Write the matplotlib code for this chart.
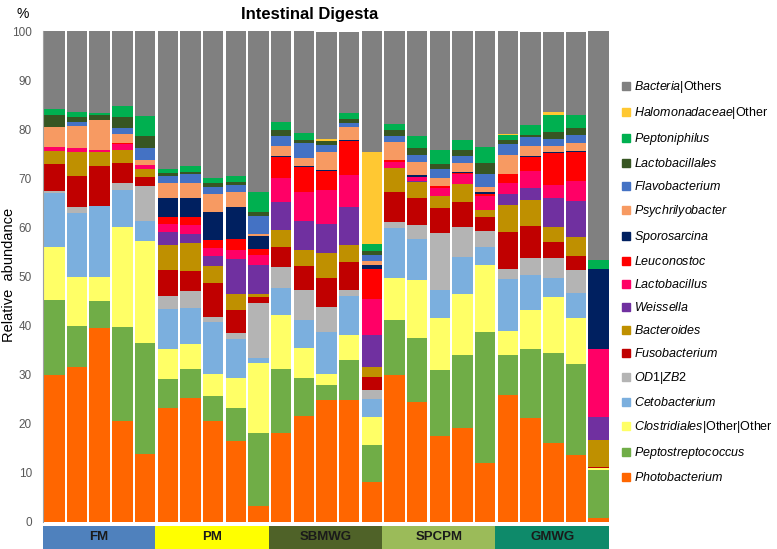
import matplotlib
matplotlib.use("Agg")
import matplotlib.pyplot as plt
from matplotlib.patches import Patch, Rectangle

# Stacked relative abundance of intestinal digesta, 5 diets x 5 samples.

plt.rcParams["font.family"] = ["Liberation Sans", "DejaVu Sans"]
plt.rcParams["mathtext.fontset"] = "custom"
plt.rcParams["mathtext.it"] = "Liberation Sans:italic"
plt.rcParams["mathtext.rm"] = "Liberation Sans"

groups = ["FM", "PM", "SBMWG", "SPCPM", "GMWG"]
group_colors = ["#4F81BD", "#FFFF00", "#4F6228", "#9BBB59", "#0E8A6A"]
samples_per_group = 5

# values per taxon, bottom of the stack first (25 samples)
photobacterium = [29.8, 31.5, 39.4, 20.5, 13.8, 23.2, 25.3, 20.5, 16.5, 3.2,
                  18.0, 21.5, 24.9, 24.9, 8.0, 30.0, 24.3, 17.5, 19.0, 11.9,
                  25.9, 21.1, 16.0, 13.6, 0.8]
peptostreptococcus = [15.4, 8.4, 5.6, 19.1, 22.7, 5.9, 5.8, 5.1, 6.7, 14.8,
                      13.1, 7.8, 3.0, 8.0, 7.7, 11.2, 13.2, 13.5, 15.0, 26.8,
                      8.1, 14.1, 18.3, 18.5, 9.7]
clostridiales = [10.8, 10.0, 4.8, 20.5, 20.7, 6.1, 5.1, 4.6, 6.0, 14.3,
                 11.0, 6.2, 2.3, 5.1, 5.7, 8.5, 11.8, 10.6, 12.5, 13.6,
                 4.9, 7.9, 11.4, 9.5, 0.4]
cetobacterium = [10.9, 13.1, 14.5, 7.5, 4.1, 8.1, 7.3, 10.6, 8.0, 1.0,
                 5.6, 5.7, 8.5, 7.9, 3.6, 10.1, 8.3, 5.6, 7.5, 3.7,
                 10.5, 7.2, 3.9, 5.1, 0.0]
od1_zb2 = [0.4, 1.2, 0.0, 1.5, 7.2, 2.7, 3.6, 1.0, 1.3, 11.2,
           4.2, 6.0, 5.0, 1.3, 1.8, 1.3, 2.9, 11.6, 6.1, 3.3,
           2.2, 3.4, 4.2, 4.5, 0.0]
fusobacterium = [5.7, 6.3, 8.1, 4.1, 1.8, 5.2, 3.9, 6.8, 4.6, 1.2,
                 4.0, 4.9, 6.0, 5.7, 2.6, 6.0, 5.4, 5.2, 5.0, 2.9,
                 7.5, 6.6, 3.3, 2.9, 0.3]
bacteroides = [2.5, 4.8, 2.9, 2.5, 1.6, 5.2, 5.7, 3.6, 3.3, 0.8,
               3.6, 3.3, 5.1, 3.5, 2.1, 5.0, 3.3, 2.4, 3.7, 1.3,
               5.4, 5.3, 3.0, 3.9, 5.4]
weissella = [0.0, 0.0, 0.0, 0.0, 0.0, 2.7, 1.9, 1.9, 7.1, 5.8,
             5.7, 5.9, 5.8, 7.8, 6.5, 0.0, 0.3, 0.0, 0.0, 0.0,
             2.3, 2.5, 5.8, 7.4, 4.8]
lactobacillus = [0.9, 0.9, 0.4, 1.3, 0.8, 1.6, 1.9, 1.7, 1.9, 2.0,
                 4.8, 5.8, 7.1, 6.5, 7.3, 1.3, 0.8, 1.7, 2.1, 2.9,
                 2.3, 3.4, 2.7, 4.0, 13.7]
leuconostoc = [0.0, 0.0, 0.0, 0.2, 0.0, 1.5, 1.5, 1.6, 2.2, 1.3,
               4.3, 5.1, 3.8, 6.8, 6.1, 0.3, 0.0, 0.3, 0.2, 0.4,
               1.7, 2.9, 6.6, 5.9, 0.0]
sporosarcina = [0.0, 0.0, 0.0, 0.0, 0.0, 3.8, 4.0, 5.7, 6.6, 2.6,
                0.2, 0.2, 0.2, 0.2, 0.9, 0.0, 0.4, 0.0, 0.2, 0.3,
                0.0, 0.2, 0.2, 0.2, 16.5]
psychrilyobacter = [4.1, 4.4, 6.2, 1.8, 1.0, 3.0, 3.0, 3.7, 2.9, 0.4,
                    2.1, 1.8, 3.6, 2.7, 0.9, 3.7, 2.7, 1.6, 1.9, 1.2,
                    3.9, 2.0, 1.2, 1.6, 0.0]
flavobacterium = [0.0, 0.9, 0.0, 1.2, 2.5, 1.4, 1.9, 1.5, 1.5, 3.7,
                  2.0, 3.0, 1.5, 0.9, 1.2, 1.3, 1.3, 1.9, 1.3, 2.6,
                  2.2, 1.7, 1.3, 1.7, 0.0]
lactobacillales = [2.4, 1.0, 1.0, 2.3, 2.5, 0.6, 0.4, 0.7, 0.7, 0.9,
                   1.2, 0.6, 0.8, 0.7, 0.8, 1.1, 1.5, 1.1, 1.3, 2.3,
                   0.8, 0.5, 1.6, 1.5, 0.0]
peptoniphilus = [1.3, 0.9, 0.3, 2.3, 4.0, 0.9, 1.2, 1.0, 1.2, 3.9,
                 1.7, 1.5, 0.0, 1.2, 1.3, 1.2, 2.4, 2.7, 1.9, 3.2,
                 1.1, 2.0, 3.4, 2.5, 1.7]
halomonadaceae = [0.0, 0.0, 0.0, 0.0, 0.0, 0.0, 0.0, 0.0, 0.0, 0.0,
                  0.0, 0.0, 0.3, 0.0, 18.9, 0.0, 0.0, 0.0, 0.0, 0.0,
                  0.2, 0.0, 0.5, 0.0, 0.0]
others = [15.8, 16.6, 16.8, 15.2, 17.3, 28.1, 27.5, 30.0, 29.5, 32.9,
          18.5, 20.7, 21.9, 16.6, 24.6, 19.0, 21.4, 24.3, 22.3, 23.8,
          21.0, 19.0, 16.4, 17.0, 46.7]

taxa = [
    (r"$\it{Photobacterium}$", photobacterium, "#FF6600"),
    (r"$\it{Peptostreptococcus}$", peptostreptococcus, "#70AD47"),
    (r"$\it{Clostridiales}$|Other|Other", clostridiales, "#FFFF66"),
    (r"$\it{Cetobacterium}$", cetobacterium, "#7BAFDE"),
    (r"$\it{OD1}$|$\it{ZB2}$", od1_zb2, "#B4B4B4"),
    (r"$\it{Fusobacterium}$", fusobacterium, "#C00000"),
    (r"$\it{Bacteroides}$", bacteroides, "#BF9000"),
    (r"$\it{Weissella}$", weissella, "#7030A0"),
    (r"$\it{Lactobacillus}$", lactobacillus, "#FF0066"),
    (r"$\it{Leuconostoc}$", leuconostoc, "#FF0000"),
    (r"$\it{Sporosarcina}$", sporosarcina, "#002060"),
    (r"$\it{Psychrilyobacter}$", psychrilyobacter, "#F79A62"),
    (r"$\it{Flavobacterium}$", flavobacterium, "#4472C4"),
    (r"$\it{Lactobacillales}$", lactobacillales, "#375623"),
    (r"$\it{Peptoniphilus}$", peptoniphilus, "#00B050"),
    (r"$\it{Halomonadaceae}$|Other", halomonadaceae, "#FFC832"),
    (r"$\it{Bacteria}$|Others", others, "#808080"),
]

n = len(others)
x = list(range(n))

fig = plt.figure(figsize=(7.77, 5.49), dpi=100)
ax = fig.add_axes([43 / 777, 0.0497, (610 - 43) / 777, 0.8938])

bottom = [0.0] * n
for label, vals, color in taxa:
    ax.bar(x, vals, width=0.9, bottom=bottom, color=color, linewidth=0)
    bottom = [b + v for b, v in zip(bottom, vals)]

ax.set_xlim(-0.5, n - 0.5)
ax.set_ylim(0, 100)
ax.set_yticks(range(0, 101, 10))
ax.tick_params(axis="y", length=0, pad=8, labelsize=8.5, labelcolor="#595959")
ax.set_xticks([])
for s in ["top", "right", "bottom"]:
    ax.spines[s].set_visible(False)
ax.spines["left"].set_color("#A0A0A0")
ax.spines["left"].set_linewidth(0.8)

ax.set_title("Intestinal Digesta", fontsize=12, fontweight="bold", pad=9, x=0.47)
fig.text(9 / 777, 0.5, "Relative  abundance", rotation=90, fontsize=10.5,
         ha="center", va="center")
fig.text(23 / 777, 1 - 14 / 549, "%", fontsize=10, ha="center", va="center")

# diet boxes under the bars
lab = fig.add_axes([43 / 777, 0, (610 - 43) / 777, 23 / 549])
lab.set_xlim(-0.5, n - 0.5)
lab.set_ylim(0, 1)
lab.axis("off")
for i, (g, c) in enumerate(zip(groups, group_colors)):
    start = i * samples_per_group - 0.55
    lab.add_patch(Rectangle((start, 0), samples_per_group, 1, color=c, linewidth=0))
    lab.text(start + samples_per_group / 2, 0.5, g, ha="center", va="center",
             fontsize=9.5, fontweight="bold", color="#1A1A1A")

handles = [Patch(color=c, label=l) for l, v, c in taxa][::-1]
fig.legend(handles=handles, loc="upper left", bbox_to_anchor=(617 / 777, 1 - 74 / 549),
           frameon=False, fontsize=9.0, handlelength=0.6, handleheight=0.6,
           handletextpad=0.35, labelspacing=0.8, borderaxespad=0)

fig.savefig("out.png", dpi=100)
